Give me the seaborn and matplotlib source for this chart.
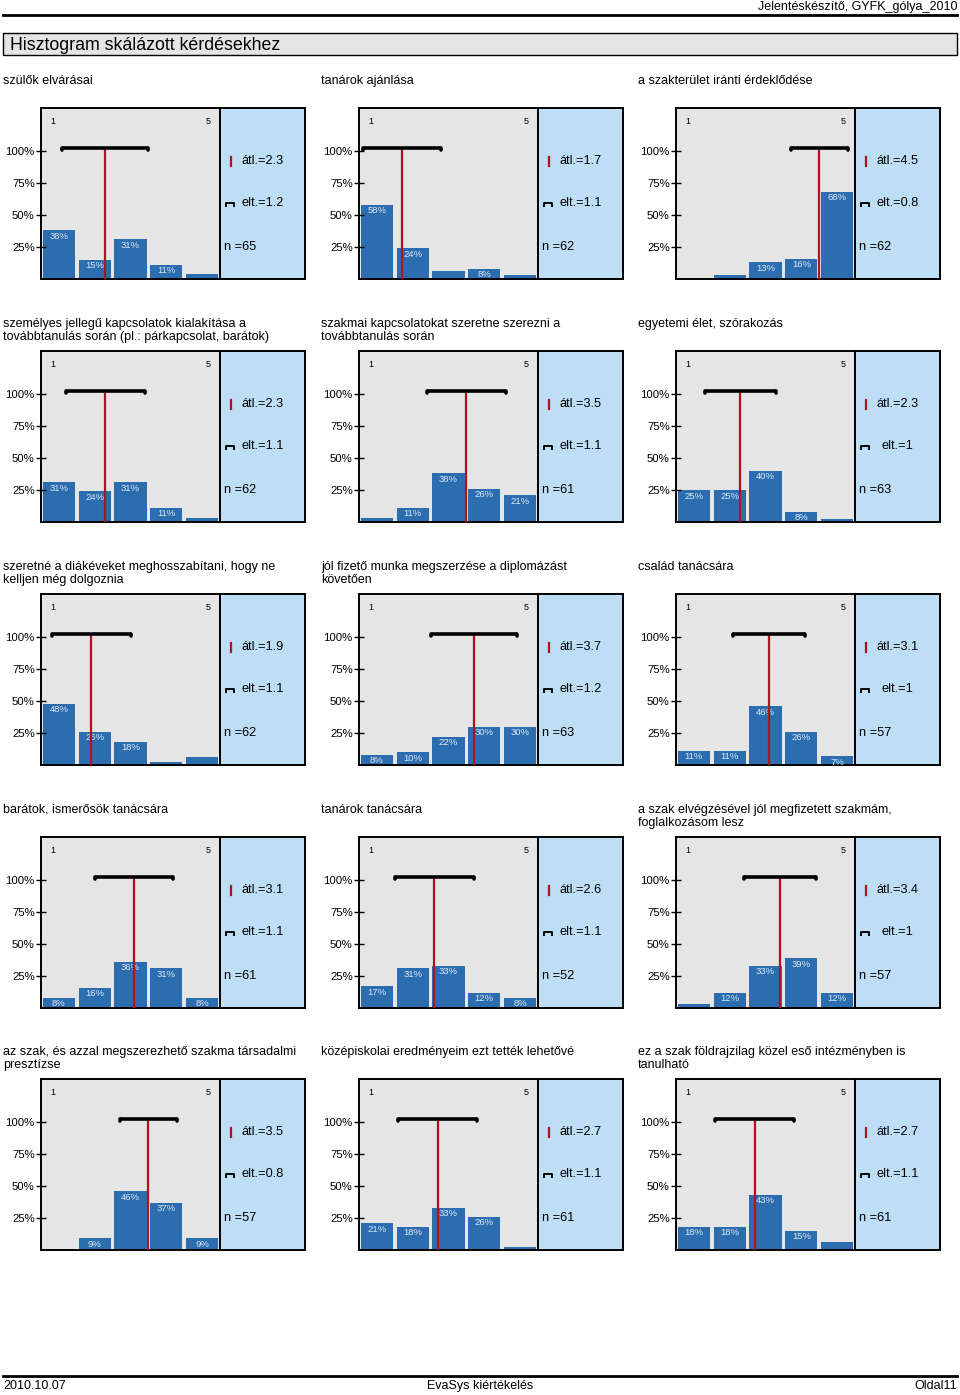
import pandas as pd
import seaborn as sns
import matplotlib.pyplot as plt
from matplotlib.lines import Line2D
from matplotlib.patches import Rectangle

plt.rcParams['font.family'] = ['Liberation Sans', 'DejaVu Sans']

# kérdések (panelek sorrendben, soronként balról jobbra)
cimek = [
    'szülők elvárásai',
    'tanárok ajánlása',
    'a szakterület iránti érdeklődése',
    'személyes jellegű kapcsolatok kialakítása a\ntovábbtanulás során (pl.: párkapcsolat, barátok)',
    'szakmai kapcsolatokat szeretne szerezni a\ntovábbtanulás során',
    'egyetemi élet, szórakozás',
    'szeretné a diákéveket meghosszabítani, hogy ne\nkelljen még dolgoznia',
    'jól fizető munka megszerzése a diplomázást\nkövetően',
    'család tanácsára',
    'barátok, ismerősök tanácsára',
    'tanárok tanácsára',
    'a szak elvégzésével jól megfizetett szakmám,\nfoglalkozásom lesz',
    'az szak, és azzal megszerezhető szakma társadalmi\npresztízse',
    'középiskolai eredményeim ezt tették lehetővé',
    'ez a szak földrajzilag közel eső intézményben is\ntanulható',
]

skala = [1, 2, 3, 4, 5]
szazalekok = [
    [38, 15, 31, 11, 4],
    [58, 24, 6, 8, 3],
    [0, 3, 13, 16, 68],
    [31, 24, 31, 11, 3],
    [3, 11, 38, 26, 21],
    [25, 25, 40, 8, 2],
    [48, 26, 18, 2, 6],
    [8, 10, 22, 30, 30],
    [11, 11, 46, 26, 7],
    [8, 16, 36, 31, 8],
    [17, 31, 33, 12, 8],
    [3, 12, 33, 39, 12],
    [0, 9, 46, 37, 9],
    [21, 18, 33, 26, 2],
    [18, 18, 43, 15, 6],
]
atlagok = [2.3, 1.7, 4.5, 2.3, 3.5, 2.3, 1.9, 3.7, 3.1, 3.1, 2.6, 3.4, 3.5, 2.7, 2.7]
szorasok = [1.2, 1.1, 0.8, 1.1, 1.1, 1.0, 1.1, 1.2, 1.0, 1.1, 1.1, 1.0, 0.8, 1.1, 1.1]
n_valasz = [65, 62, 62, 62, 61, 63, 62, 63, 57, 61, 52, 57, 57, 61, 61]

kek = '#2c6db0'
vkek = '#bedef5'
szurke = '#e5e5e5'
piros = '#b3121d'

W, H = 960, 1395
fig = plt.figure(figsize=(W / 100, H / 100), dpi=100)


def px_ax(x0, y0, w, h):
    return fig.add_axes([x0 / W, 1 - (y0 + h) / H, w / W, h / H])


# fejléc
fig.text(957 / W, 1 - 7 / H, 'Jelentéskészítő, GYFK_gólya_2010', ha='right', va='center', fontsize=9)
fig.add_artist(Line2D([3 / W, 957 / W], [1 - 15 / H] * 2, color='black', lw=2))
fig.add_artist(Rectangle((3 / W, 1 - 55 / H), 954 / W, 22 / H, transform=fig.transFigure,
                         facecolor=szurke, edgecolor='black', lw=1))
fig.text(10 / W, 1 - 45 / H, 'Hisztogram skálázott kérdésekhez', ha='left', va='center', fontsize=12.8)

oszlop_x = [41, 359, 676]
sor_y = [108, 351, 594, 837, 1079]

for i in range(len(cimek)):
    r, c = divmod(i, 3)
    gx, top = oszlop_x[c], sor_y[r]
    m, s = atlagok[i], szorasok[i]

    fig.text((gx - 38) / W, 1 - (top - 33) / H, cimek[i], ha='left', va='top',
             fontsize=9, linespacing=1.15)

    ax = px_ax(gx, top, 179, 171)
    df = pd.DataFrame({'ertek': skala, 'szazalek': szazalekok[i]})
    sns.barplot(data=df, x='ertek', y='szazalek', native_scale=True, width=0.9,
                color=kek, saturation=1, linewidth=0, errorbar=None, ax=ax)
    ax.set_xlim(0.5, 5.5)
    ax.set_ylim(0, 133.6)
    ax.set_facecolor(szurke)
    ax.set_xlabel('')
    ax.set_ylabel('')
    ax.set_xticks([])
    ax.set_yticks([25, 50, 75, 100])
    ax.set_yticklabels(['25%', '50%', '75%', '100%'])
    ax.tick_params(axis='y', direction='inout', length=7, width=1, labelsize=8.2, pad=1)
    for sp in ax.spines.values():
        sp.set_linewidth(1.4)

    for x, p in zip(skala, szazalekok[i]):
        if p >= 7:
            ax.text(x, p - 4.7, f'{p}%', ha='center', va='center', fontsize=6.8, color='#dde8f4', zorder=4)

    ax.text(0.84, 123, '1', ha='center', va='center', fontsize=6.5)
    ax.text(5.16, 123, '5', ha='center', va='center', fontsize=6.5)

    # átlag és szórás
    ax.vlines(m, 0, 102.6, color=piros, lw=1.6, zorder=5)
    ax.plot([m - s, m + s], [102.6, 102.6], color='black', lw=2.6, solid_capstyle='butt', zorder=6)
    ax.plot([m - s, m - s], [100.8, 102.6], color='black', lw=2.6, solid_capstyle='round', zorder=6)
    ax.plot([m + s, m + s], [100.8, 102.6], color='black', lw=2.6, solid_capstyle='round', zorder=6)

    bx = px_ax(gx + 179, top, 85, 171)
    bx.set_facecolor(vkek)
    bx.set_xticks([])
    bx.set_yticks([])
    bx.set_xlim(0, 1)
    bx.set_ylim(0, 1)
    for sp in bx.spines.values():
        sp.set_linewidth(1.4)
    bx.plot([0.125, 0.125], [0.662, 0.712], color=piros, lw=1.6)
    bx.text(0.25, 0.69, f'átl.={m:g}', ha='left', va='center', fontsize=9.2)
    bx.plot([0.07, 0.07, 0.165, 0.165], [0.428, 0.446, 0.446, 0.428], color='black', lw=1.4)
    bx.text(0.5, 0.443, f'elt.={s:g}', ha='center', va='center', fontsize=9.2)
    bx.text(0.05, 0.19, f'n ={n_valasz[i]}', ha='left', va='center', fontsize=9.2)

# lábléc
fig.add_artist(Line2D([3 / W, 957 / W], [1 - 1376 / H] * 2, color='black', lw=2))
fig.text(3 / W, 1 - 1386 / H, '2010.10.07', ha='left', va='center', fontsize=9)
fig.text(480 / W, 1 - 1386 / H, 'EvaSys kiértékelés', ha='center', va='center', fontsize=9)
fig.text(957 / W, 1 - 1386 / H, 'Oldal11', ha='right', va='center', fontsize=9)

fig.savefig('out.png', dpi=100)
